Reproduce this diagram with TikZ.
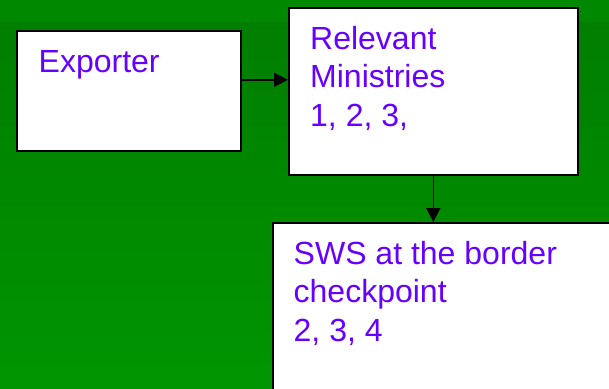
\documentclass[tikz,border=0pt]{standalone}
\usepackage{fontspec}
\setmainfont{Liberation Sans}
\usetikzlibrary{arrows.meta,calc}
\definecolor{stripgreen}{RGB}{0,136,0}
\definecolor{topgreen}{RGB}{0,126,0}
\definecolor{botgreen}{RGB}{0,149,0}
\definecolor{txtpurple}{RGB}{102,0,255}
\tikzset{
  box/.style={draw=black, line width=1.6pt, fill=white, rectangle, inner sep=0pt, anchor=north west},
  lbl/.style={anchor=base west, inner sep=0pt, text=txtpurple, font=\fontsize{32pt}{38.5pt}\selectfont},
  conn/.style={line width=1.5pt, -{Triangle[length=14pt,width=14pt]}}
}
\begin{document}
\begin{tikzpicture}[x=1pt,y=-1pt]
\useasboundingbox (0,0) rectangle (609,388);
\clip (0,0) rectangle (609,388);
\fill[stripgreen] (0,0) rectangle (609,22);
\shade[top color=topgreen, bottom color=botgreen] (0,22) rectangle (609,388);
% boxes
\node[box, minimum width=224pt, minimum height=120pt] (exp) at (16,30) {};
\node[box, minimum width=289pt, minimum height=167pt] (min) at (288,7) {};
\node[box, minimum width=350pt, minimum height=180pt] (sws) at (272,222) {};
% texts
\node[lbl] (t1) at (38.5,72.3) {Exporter};
\node[lbl] (t2) at (310,49) {\parbox[t]{250pt}{\raggedright Relevant\\Ministries\\1, 2, 3,}};
\node[lbl] (t3) at (293.5,264) {\parbox[t]{300pt}{\raggedright SWS at the border\\checkpoint\\2, 3, 4}};
% connectors
\draw[conn] ([yshift=11pt]exp.east) -- ([yshift=11pt]exp.east -| min.west);
\draw[conn] (min.south) -- (min.south |- sws.north);
\end{tikzpicture}
\end{document}
